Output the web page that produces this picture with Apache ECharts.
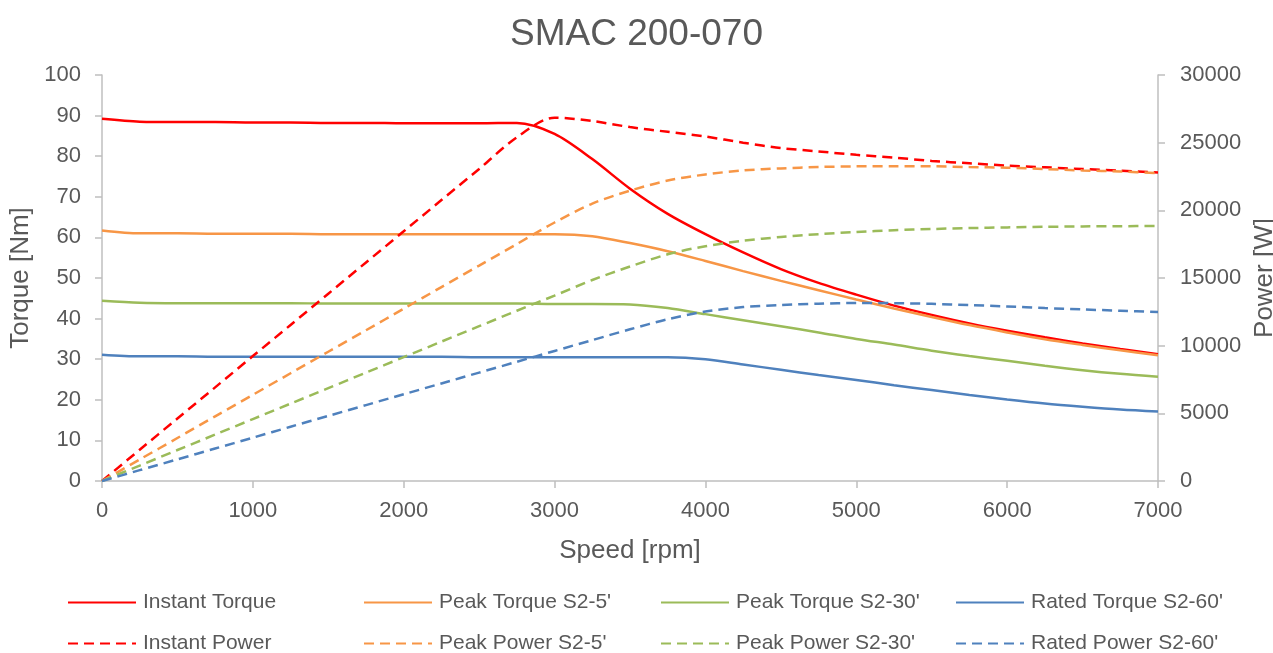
<!DOCTYPE html>
<html>
<head>
<meta charset="utf-8">
<title>SMAC 200-070</title>
<script src="https://cdn.jsdelivr.net/npm/echarts@6/dist/echarts.min.js"></script>
<style>
  html, body { margin: 0; padding: 0; background: #fff; }
  #chart { width: 1273px; height: 653px; }
</style>
</head>
<body>
<div id="chart"></div>
<script>
// speed samples [rpm], every 250 rpm
const speed = [0, 250, 500, 750, 1000, 1250, 1500, 1750, 2000, 2250, 2500, 2750, 3000, 3250, 3500,
  3750, 4000, 4250, 4500, 4750, 5000, 5250, 5500, 5750, 6000, 6250, 6500, 6750, 7000];

// torque curves [Nm]
const instantTorque = [89.2, 88.5, 88.4, 88.4, 88.3, 88.3, 88.2, 88.2, 88.1, 88.1, 88.1, 88.2, 85.5, 79.3, 72.0,
  65.8, 60.8, 56.3, 52.2, 48.8, 45.9, 43.2, 40.9, 38.8, 37.0, 35.4, 33.9, 32.5, 31.2];
const peakTorque5 = [61.7, 61.0, 61.0, 60.9, 60.9, 60.9, 60.8, 60.8, 60.8, 60.8, 60.8, 60.8, 60.8, 60.3, 58.6,
  56.6, 54.2, 51.7, 49.3, 47.0, 44.7, 42.5, 40.4, 38.4, 36.6, 34.9, 33.5, 32.2, 31.0];
const peakTorque30 = [44.4, 43.9, 43.8, 43.8, 43.8, 43.8, 43.7, 43.7, 43.7, 43.7, 43.7, 43.7, 43.6, 43.6, 43.5,
  42.6, 41.1, 39.6, 38.1, 36.6, 35.0, 33.6, 32.1, 30.8, 29.6, 28.4, 27.3, 26.4, 25.7];
const ratedTorque60 = [31.1, 30.7, 30.7, 30.6, 30.6, 30.6, 30.6, 30.6, 30.6, 30.6, 30.5, 30.5, 30.5, 30.5, 30.5,
  30.5, 30.0, 28.7, 27.4, 26.1, 24.9, 23.6, 22.4, 21.2, 20.1, 19.1, 18.3, 17.6, 17.1];

// power curves [W]
const instantPower = [0, 2310, 4620, 6920, 9230, 11530, 13840, 16150, 18450, 20760, 23060, 25400, 26850, 26600, 26150,
  25800, 25450, 25000, 24600, 24350, 24100, 23900, 23650, 23480, 23300, 23180, 23050, 22930, 22800];
const peakPower5 = [0, 1590, 3180, 4780, 6370, 7960, 9550, 11140, 12730, 14330, 15920, 17510, 19100, 20500, 21450,
  22200, 22650, 22950, 23100, 23200, 23250, 23250, 23250, 23200, 23150, 23050, 22950, 22870, 22750];
const peakPower30 = [0, 1140, 2290, 3430, 4575, 5720, 6860, 8010, 9150, 10300, 11440, 12580, 13700, 14850, 15850,
  16750, 17350, 17750, 18030, 18240, 18400, 18530, 18620, 18690, 18740, 18780, 18810, 18830, 18840];
const ratedPower60 = [0, 800, 1600, 2400, 3200, 4010, 4810, 5610, 6410, 7210, 8010, 8810, 9610, 10410, 11210,
  11950, 12520, 12850, 13000, 13100, 13150, 13140, 13090, 13000, 12900, 12780, 12680, 12580, 12480];

const torqueTicks = { min: 0, max: 100, interval: 10 };
const powerTicks = { min: 0, max: 30000, interval: 5000 };
const speedTicks = { min: 0, max: 7000, interval: 1000 };

const torqueNames = ['Instant Torque', "Peak Torque S2-5'", "Peak Torque S2-30'", "Rated Torque S2-60'"];
const powerNames = ['Instant Power', "Peak Power S2-5'", "Peak Power S2-30'", "Rated Power S2-60'"];
const colors = ['#FF0000', '#F79646', '#9BBB59', '#4F81BD'];

const font = 'Liberation Sans, Arial, sans-serif';
const textColor = '#595959';
const axisGray = '#BFBFBF';

function pairs(values) {
  return speed.map((s, i) => [s, values[i]]);
}

function makeSeries(name, values, color, yIdx, dashed) {
  return {
    name: name,
    type: 'line',
    yAxisIndex: yIdx,
    data: pairs(values),
    showSymbol: false,
    symbol: 'none',
    smooth: 0.3,
    color: color,
    lineStyle: { color: color, width: 2.5, type: dashed ? [10, 6] : 'solid' },
    emphasis: { disabled: true }
  };
}

const torqueData = [instantTorque, peakTorque5, peakTorque30, ratedTorque60];
const powerData = [instantPower, peakPower5, peakPower30, ratedPower60];

const series = [];
torqueData.forEach((d, i) => series.push(makeSeries(torqueNames[i], d, colors[i], 0, false)));
powerData.forEach((d, i) => series.push(makeSeries(powerNames[i], d, colors[i], 1, true)));

// one legend per entry, laid out as 4 columns x 2 rows
const colLeft = [67, 363, 660, 955];
const rowTop = [592, 633];
function legendItem(name, col, row) {
  return {
    data: [name],
    left: colLeft[col],
    top: rowTop[row],
    itemWidth: 68,
    itemHeight: 14,
    padding: 0,
    selectedMode: false,
    itemStyle: { opacity: 0 },
    textStyle: { fontFamily: font, fontSize: 21, color: textColor, padding: [0, 0, 0, 2] }
  };
}
const legends = [];
torqueNames.forEach((n, i) => legends.push(legendItem(n, i, 0)));
powerNames.forEach((n, i) => legends.push(legendItem(n, i, 1)));

const plainNum = v => String(v);

const chart = echarts.init(document.getElementById('chart'));
chart.setOption({
  animation: false,
  backgroundColor: '#ffffff',
  title: {
    text: 'SMAC 200-070',
    left: 'center',
    top: 16,
    padding: 0,
    textStyle: { fontFamily: font, fontSize: 37, fontWeight: 'normal', color: textColor }
  },
  legend: legends,
  grid: { left: 102, right: 115, top: 75, bottom: 172, outerBoundsMode: 'none', containLabel: false },
  xAxis: {
    type: 'value',
    min: speedTicks.min, max: speedTicks.max, interval: speedTicks.interval,
    name: 'Speed [rpm]',
    nameLocation: 'middle',
    nameGap: 57,
    nameTextStyle: { fontFamily: font, fontSize: 26, color: textColor },
    axisLine: { show: true, lineStyle: { color: axisGray, width: 1.5 } },
    axisTick: { show: true, length: 7, lineStyle: { color: axisGray, width: 1.5 } },
    axisLabel: { fontFamily: font, fontSize: 22, color: textColor, margin: 19, formatter: plainNum },
    splitLine: { show: false }
  },
  yAxis: [
    {
      type: 'value',
      min: torqueTicks.min, max: torqueTicks.max, interval: torqueTicks.interval,
      name: 'Torque [Nm]',
      nameLocation: 'middle',
      nameGap: 64,
      nameRotate: 90,
      nameTextStyle: { fontFamily: font, fontSize: 26, color: textColor },
      axisLine: { show: true, lineStyle: { color: axisGray, width: 1.5 } },
      axisTick: { show: true, length: 7, lineStyle: { color: axisGray, width: 1.5 } },
      axisLabel: { fontFamily: font, fontSize: 22, color: textColor, margin: 21, formatter: plainNum },
      splitLine: { show: false }
    },
    {
      type: 'value',
      position: 'right',
      min: powerTicks.min, max: powerTicks.max, interval: powerTicks.interval,
      name: 'Power [W]',
      nameLocation: 'middle',
      nameGap: 83,
      nameRotate: 90,
      nameTextStyle: { fontFamily: font, fontSize: 26, color: textColor },
      axisLine: { show: true, lineStyle: { color: axisGray, width: 1.5 } },
      axisTick: { show: true, length: 7, lineStyle: { color: axisGray, width: 1.5 } },
      axisLabel: { fontFamily: font, fontSize: 22, color: textColor, margin: 22, formatter: plainNum },
      splitLine: { show: false }
    }
  ],
  series: series
});
</script>
</body>
</html>
